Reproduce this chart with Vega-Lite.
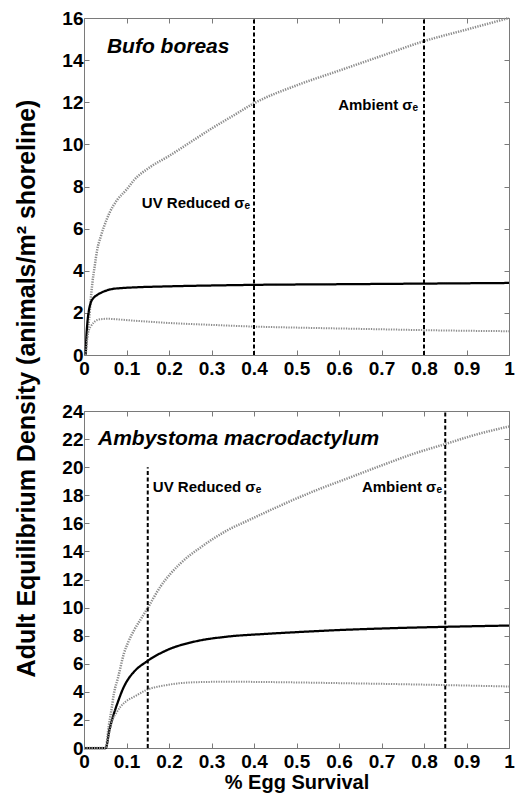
{
  "$schema": "https://vega.github.io/schema/vega-lite/v6.json",
  "background": "white",
  "padding": {"left": 13, "top": 8, "right": 5, "bottom": 5},
  "bounds": "flush",
  "spacing": 56,
  "config": {
    "view": {"stroke": "#7a7a7a", "strokeWidth": 1},
    "axis": {
      "labelFont": "Liberation Sans", "labelFontWeight": "bold", "labelFontSize": 19, "labelColor": "black",
      "tickColor": "#7a7a7a", "tickSize": -5, "tickWidth": 1, "domain": false, "grid": false,
      "titleFont": "Liberation Sans", "titleFontWeight": "bold", "titleColor": "black"
    },
    "text": {"font": "Liberation Sans", "fontWeight": "bold", "color": "black"}
  },
  "datasets": {
    "bufo": [
      {"s": "upper", "x": 0.004, "y": 0}, {"s": "upper", "x": 0.007, "y": 0.9}, {"s": "upper", "x": 0.0118, "y": 1.66},
      {"s": "upper", "x": 0.0157, "y": 2.6}, {"s": "upper", "x": 0.0196, "y": 3.4}, {"s": "upper", "x": 0.025, "y": 4.2},
      {"s": "upper", "x": 0.031, "y": 4.99}, {"s": "upper", "x": 0.039, "y": 5.6}, {"s": "upper", "x": 0.047, "y": 6.09},
      {"s": "upper", "x": 0.06, "y": 6.75}, {"s": "upper", "x": 0.078, "y": 7.36}, {"s": "upper", "x": 0.1, "y": 7.85},
      {"s": "upper", "x": 0.118, "y": 8.31}, {"s": "upper", "x": 0.157, "y": 8.94}, {"s": "upper", "x": 0.2, "y": 9.45},
      {"s": "upper", "x": 0.25, "y": 10.1}, {"s": "upper", "x": 0.3, "y": 10.75}, {"s": "upper", "x": 0.35, "y": 11.35},
      {"s": "upper", "x": 0.4, "y": 11.95}, {"s": "upper", "x": 0.5, "y": 12.8}, {"s": "upper", "x": 0.6, "y": 13.5},
      {"s": "upper", "x": 0.7, "y": 14.2}, {"s": "upper", "x": 0.8, "y": 14.9}, {"s": "upper", "x": 0.9, "y": 15.45},
      {"s": "upper", "x": 1.0, "y": 16.0},
      {"s": "mean", "x": 0.004, "y": 0}, {"s": "mean", "x": 0.0055, "y": 0.8}, {"s": "mean", "x": 0.0078, "y": 1.5},
      {"s": "mean", "x": 0.011, "y": 2.05}, {"s": "mean", "x": 0.0157, "y": 2.47}, {"s": "mean", "x": 0.022, "y": 2.7},
      {"s": "mean", "x": 0.031, "y": 2.85}, {"s": "mean", "x": 0.045, "y": 3.0}, {"s": "mean", "x": 0.063, "y": 3.12},
      {"s": "mean", "x": 0.09, "y": 3.18}, {"s": "mean", "x": 0.118, "y": 3.21}, {"s": "mean", "x": 0.2, "y": 3.26},
      {"s": "mean", "x": 0.3, "y": 3.3}, {"s": "mean", "x": 0.4, "y": 3.33}, {"s": "mean", "x": 0.6, "y": 3.36},
      {"s": "mean", "x": 0.8, "y": 3.39}, {"s": "mean", "x": 1.0, "y": 3.42},
      {"s": "lower", "x": 0.004, "y": 0}, {"s": "lower", "x": 0.008, "y": 0.8}, {"s": "lower", "x": 0.0118, "y": 1.2},
      {"s": "lower", "x": 0.0157, "y": 1.35}, {"s": "lower", "x": 0.022, "y": 1.52}, {"s": "lower", "x": 0.031, "y": 1.66},
      {"s": "lower", "x": 0.045, "y": 1.71}, {"s": "lower", "x": 0.055, "y": 1.72}, {"s": "lower", "x": 0.08, "y": 1.69},
      {"s": "lower", "x": 0.118, "y": 1.63}, {"s": "lower", "x": 0.2, "y": 1.52}, {"s": "lower", "x": 0.3, "y": 1.43},
      {"s": "lower", "x": 0.4, "y": 1.35}, {"s": "lower", "x": 0.5, "y": 1.3}, {"s": "lower", "x": 0.6, "y": 1.26},
      {"s": "lower", "x": 0.7, "y": 1.22}, {"s": "lower", "x": 0.8, "y": 1.18}, {"s": "lower", "x": 0.9, "y": 1.15},
      {"s": "lower", "x": 1.0, "y": 1.13}
    ],
    "amby": [
      {"s": "upper", "x": 0, "y": 0}, {"s": "upper", "x": 0.051, "y": 0}, {"s": "upper", "x": 0.058, "y": 1.5},
      {"s": "upper", "x": 0.064, "y": 2.6}, {"s": "upper", "x": 0.0706, "y": 3.9}, {"s": "upper", "x": 0.08, "y": 5.0},
      {"s": "upper", "x": 0.094, "y": 6.74}, {"s": "upper", "x": 0.105, "y": 7.6}, {"s": "upper", "x": 0.118, "y": 8.4},
      {"s": "upper", "x": 0.132, "y": 9.1}, {"s": "upper", "x": 0.147, "y": 9.83}, {"s": "upper", "x": 0.18, "y": 11.5},
      {"s": "upper", "x": 0.227, "y": 13.15}, {"s": "upper", "x": 0.275, "y": 14.3}, {"s": "upper", "x": 0.337, "y": 15.5},
      {"s": "upper", "x": 0.393, "y": 16.3}, {"s": "upper", "x": 0.45, "y": 17.1}, {"s": "upper", "x": 0.55, "y": 18.4},
      {"s": "upper", "x": 0.62, "y": 19.2}, {"s": "upper", "x": 0.707, "y": 20.2}, {"s": "upper", "x": 0.78, "y": 21.0},
      {"s": "upper", "x": 0.845, "y": 21.6}, {"s": "upper", "x": 0.92, "y": 22.3}, {"s": "upper", "x": 1.0, "y": 22.9},
      {"s": "mean", "x": 0, "y": 0}, {"s": "mean", "x": 0.051, "y": 0}, {"s": "mean", "x": 0.06, "y": 1.3},
      {"s": "mean", "x": 0.0706, "y": 2.47}, {"s": "mean", "x": 0.08, "y": 3.3}, {"s": "mean", "x": 0.094, "y": 4.37},
      {"s": "mean", "x": 0.105, "y": 4.95}, {"s": "mean", "x": 0.118, "y": 5.44}, {"s": "mean", "x": 0.147, "y": 6.15},
      {"s": "mean", "x": 0.196, "y": 6.98}, {"s": "mean", "x": 0.259, "y": 7.57}, {"s": "mean", "x": 0.337, "y": 7.93},
      {"s": "mean", "x": 0.424, "y": 8.12}, {"s": "mean", "x": 0.5, "y": 8.25}, {"s": "mean", "x": 0.6, "y": 8.4},
      {"s": "mean", "x": 0.7, "y": 8.51}, {"s": "mean", "x": 0.85, "y": 8.63}, {"s": "mean", "x": 1.0, "y": 8.72},
      {"s": "lower", "x": 0, "y": 0}, {"s": "lower", "x": 0.051, "y": 0}, {"s": "lower", "x": 0.058, "y": 0.9},
      {"s": "lower", "x": 0.067, "y": 2.0}, {"s": "lower", "x": 0.076, "y": 2.5}, {"s": "lower", "x": 0.086, "y": 2.94},
      {"s": "lower", "x": 0.1, "y": 3.35}, {"s": "lower", "x": 0.118, "y": 3.65}, {"s": "lower", "x": 0.147, "y": 4.13},
      {"s": "lower", "x": 0.196, "y": 4.49}, {"s": "lower", "x": 0.259, "y": 4.68}, {"s": "lower", "x": 0.337, "y": 4.72},
      {"s": "lower", "x": 0.424, "y": 4.7}, {"s": "lower", "x": 0.5, "y": 4.67}, {"s": "lower", "x": 0.6, "y": 4.62},
      {"s": "lower", "x": 0.7, "y": 4.57}, {"s": "lower", "x": 0.85, "y": 4.48}, {"s": "lower", "x": 1.0, "y": 4.38}
    ],
    "bufo_rules": [{"x": 0.4, "y": 0, "y2": 16}, {"x": 0.8, "y": 0, "y2": 16}],
    "amby_rules": [{"x": 0.15, "y": 0, "y2": 20}, {"x": 0.85, "y": 0, "y2": 24}],
    "bufo_species": [{"x": 0.054, "y": 14.6, "t": "Bufo boreas"}],
    "amby_species": [{"x": 0.033, "y": 22.0, "t": "Ambystoma macrodactylum"}],
    "bufo_notes": [{"x": 0.136, "y": 7.2, "t": "UV Reduced σₑ"}, {"x": 0.598, "y": 11.87, "t": "Ambient σₑ"}],
    "amby_notes": [{"x": 0.162, "y": 18.6, "t": "UV Reduced σₑ"}, {"x": 0.654, "y": 18.6, "t": "Ambient σₑ"}]
  },
  "vconcat": [
    {
      "width": 425, "height": 337,
      "resolve": {"axis": {"x": "independent", "y": "independent"}},
      "layer": [
        {
          "data": {"name": "bufo"},
          "mark": {"type": "line", "interpolate": "monotone"},
          "encoding": {
            "x": {"field": "x", "type": "quantitative", "scale": {"domain": [0, 1], "nice": false},
                  "axis": {"values": [0, 0.1, 0.2, 0.3, 0.4, 0.5, 0.6, 0.7, 0.8, 0.9, 1], "format": "~g", "labelFlush": false, "labelPadding": 9, "labelOverlap": false, "title": null}},
            "y": {"field": "y", "type": "quantitative", "scale": {"domain": [0, 16], "nice": false},
                  "axis": {"values": [0, 2, 4, 6, 8, 10, 12, 14, 16], "labelPadding": 6, "labelOverlap": false,
                           "title": "Adult Equilibrium Density (animals/m² shoreline)", "titleFontSize": 25,
                           "titleX": -58, "titleY": 370, "titleAlign": "center", "titleBaseline": "middle", "titleAngle": -90}},
            "color": {"field": "s", "type": "nominal", "legend": null,
                      "scale": {"domain": ["upper", "mean", "lower"], "range": ["#8c8c8c", "#000000", "#8c8c8c"]}},
            "strokeDash": {"field": "s", "type": "nominal", "legend": null,
                      "scale": {"domain": ["upper", "mean", "lower"], "range": [[1.3, 1.2], [1, 0], [1.3, 1.2]]}},
            "strokeWidth": {"field": "s", "type": "nominal", "legend": null,
                      "scale": {"domain": ["upper", "mean", "lower"], "range": [2.5, 2, 2.5]}}
          }
        },
        {
          "data": {"name": "bufo_rules"},
          "mark": {"type": "rule", "strokeDash": [4, 2.5], "strokeWidth": 2, "color": "black"},
          "encoding": {
            "x": {"field": "x", "type": "quantitative",
                  "axis": {"orient": "top", "values": [0, 0.1, 0.2, 0.3, 0.4, 0.5, 0.6, 0.7, 0.8, 0.9, 1], "labels": false, "title": null}},
            "y": {"field": "y", "type": "quantitative",
                  "axis": {"orient": "right", "values": [0, 2, 4, 6, 8, 10, 12, 14, 16], "labels": false, "title": null}},
            "y2": {"field": "y2"}
          }
        },
        {
          "data": {"name": "bufo_species"},
          "mark": {"type": "text", "align": "left", "baseline": "middle", "fontSize": 21, "fontStyle": "italic"},
          "encoding": {
            "x": {"field": "x", "type": "quantitative", "axis": null},
            "y": {"field": "y", "type": "quantitative", "axis": null},
            "text": {"field": "t"}
          }
        },
        {
          "data": {"name": "bufo_notes"},
          "mark": {"type": "text", "align": "left", "baseline": "middle", "fontSize": 15},
          "encoding": {
            "x": {"field": "x", "type": "quantitative", "axis": null},
            "y": {"field": "y", "type": "quantitative", "axis": null},
            "text": {"field": "t"}
          }
        }
      ]
    },
    {
      "width": 425, "height": 337,
      "resolve": {"axis": {"x": "independent", "y": "independent"}},
      "layer": [
        {
          "data": {"name": "amby"},
          "mark": {"type": "line", "interpolate": "monotone"},
          "encoding": {
            "x": {"field": "x", "type": "quantitative", "scale": {"domain": [0, 1], "nice": false},
                  "axis": {"values": [0, 0.1, 0.2, 0.3, 0.4, 0.5, 0.6, 0.7, 0.8, 0.9, 1], "format": "~g", "labelFlush": false, "labelPadding": 9, "labelOverlap": false,
                           "title": "% Egg Survival", "titleFontSize": 20, "titlePadding": 1}},
            "y": {"field": "y", "type": "quantitative", "scale": {"domain": [0, 24], "nice": false},
                  "axis": {"values": [0, 2, 4, 6, 8, 10, 12, 14, 16, 18, 20, 22, 24], "labelPadding": 6, "labelOverlap": false, "title": null}},
            "color": {"field": "s", "type": "nominal", "legend": null,
                      "scale": {"domain": ["upper", "mean", "lower"], "range": ["#8c8c8c", "#000000", "#8c8c8c"]}},
            "strokeDash": {"field": "s", "type": "nominal", "legend": null,
                      "scale": {"domain": ["upper", "mean", "lower"], "range": [[1.3, 1.2], [1, 0], [1.3, 1.2]]}},
            "strokeWidth": {"field": "s", "type": "nominal", "legend": null,
                      "scale": {"domain": ["upper", "mean", "lower"], "range": [2.5, 2, 2.5]}}
          }
        },
        {
          "data": {"name": "amby_rules"},
          "mark": {"type": "rule", "strokeDash": [4, 2.5], "strokeWidth": 2, "color": "black"},
          "encoding": {
            "x": {"field": "x", "type": "quantitative",
                  "axis": {"orient": "top", "values": [0, 0.1, 0.2, 0.3, 0.4, 0.5, 0.6, 0.7, 0.8, 0.9, 1], "labels": false, "title": null}},
            "y": {"field": "y", "type": "quantitative",
                  "axis": {"orient": "right", "values": [0, 2, 4, 6, 8, 10, 12, 14, 16, 18, 20, 22, 24], "labels": false, "title": null}},
            "y2": {"field": "y2"}
          }
        },
        {
          "data": {"name": "amby_species"},
          "mark": {"type": "text", "align": "left", "baseline": "middle", "fontSize": 21, "fontStyle": "italic"},
          "encoding": {
            "x": {"field": "x", "type": "quantitative", "axis": null},
            "y": {"field": "y", "type": "quantitative", "axis": null},
            "text": {"field": "t"}
          }
        },
        {
          "data": {"name": "amby_notes"},
          "mark": {"type": "text", "align": "left", "baseline": "middle", "fontSize": 15},
          "encoding": {
            "x": {"field": "x", "type": "quantitative", "axis": null},
            "y": {"field": "y", "type": "quantitative", "axis": null},
            "text": {"field": "t"}
          }
        }
      ]
    }
  ]
}
